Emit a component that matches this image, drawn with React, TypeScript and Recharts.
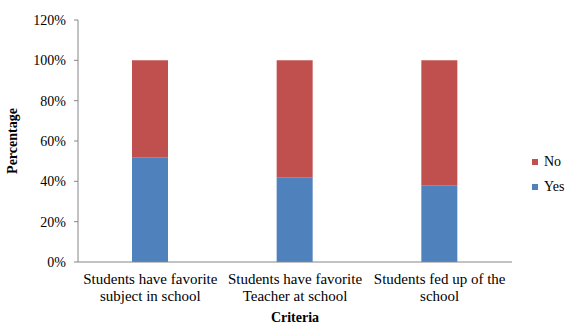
import React from 'react';
import { BarChart, Bar, XAxis, YAxis, Legend, Label } from 'recharts';

const categories = [
    'Students have favorite\nsubject in school',
    'Students have favorite\nTeacher at school',
    'Students fed up of the\nschool',
];
const yesValues = [52, 42, 38];
const noValues = [48, 58, 62];
const yTicks = [0, 20, 40, 60, 80, 100, 120];
const legendOrder = ['No', 'Yes'];

const data = categories.map((name, i) => ({ name, Yes: yesValues[i], No: noValues[i] }));

const FONT = '"Liberation Serif", "Times New Roman", serif';
const textStyle = { fontFamily: FONT, fontSize: 14, fill: '#000' };

const CategoryTick = (props: any) => {
    const { x, y, payload } = props;
    const lines = String(payload.value).split('\n');
    return (
        <text x={x} y={y + 14} textAnchor="middle" style={{ ...textStyle, fontSize: 15 }}>
            {lines.map((line, i) => (
                <tspan key={i} x={x} dy={i === 0 ? 0 : 17}>{line}</tspan>
            ))}
        </text>
    );
};

const LegendBox = (props: any) => {
    const items = legendOrder
        .map((k) => (props.payload || []).find((p: any) => p.value === k))
        .filter(Boolean);
    return (
        <div style={{ fontFamily: FONT, fontSize: 14, color: '#000', width: 36 }}>
            {items.map((it: any) => (
                <div key={it.value} style={{ display: 'flex', alignItems: 'center', height: 25, whiteSpace: 'nowrap' }}>
                    <span style={{ width: 6, height: 6, background: it.color, marginRight: 6, flex: 'none' }} />
                    {it.value}
                </div>
            ))}
        </div>
    );
};

const App: React.FC = () => {
    return (
        <div style={{ position: 'absolute', left: 0, top: 0, width: 566, height: 324, background: '#fff', overflow: 'hidden' }}>
            <BarChart width={566} height={324} data={data} margin={{ top: 20, right: 18, left: 0, bottom: 0 }}>
                <XAxis
                    dataKey="name"
                    height={62}
                    tick={<CategoryTick />}
                    tickLine={false}
                    stroke="#868686"
                    interval={0}
                >
                    <Label value="Criteria" position="insideBottom" offset={2} style={{ ...textStyle, fontWeight: 'bold' }} />
                </XAxis>
                <YAxis
                    width={78}
                    domain={[0, 120]}
                    ticks={yTicks}
                    tickFormatter={(v: number) => `${v}%`}
                    tickSize={4}
                    tickMargin={8}
                    stroke="#868686"
                    tick={{ style: textStyle }}
                >
                    <Label value="Percentage" angle={-90} position="insideLeft" offset={12} style={{ ...textStyle, fontWeight: 'bold', textAnchor: 'middle' }} />
                </YAxis>
                <Legend
                    layout="vertical"
                    align="right"
                    verticalAlign="middle"
                    content={<LegendBox />}
                    wrapperStyle={{ left: 532, top: 149, right: 'auto' }}
                />
                <Bar dataKey="Yes" stackId="a" fill="#4F81BD" barSize={36} isAnimationActive={false} />
                <Bar dataKey="No" stackId="a" fill="#C0504D" barSize={36} isAnimationActive={false} />
            </BarChart>
        </div>
    );
};

export default App;
